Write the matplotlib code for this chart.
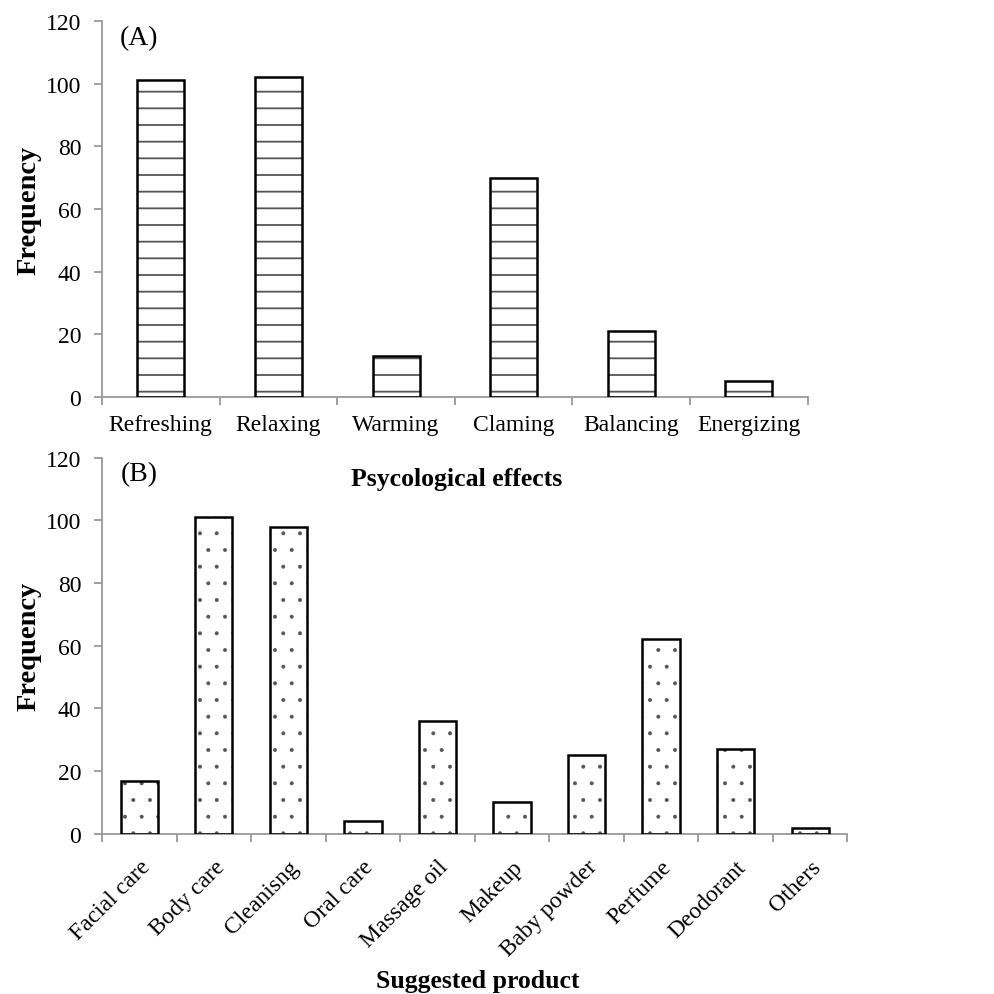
import matplotlib.pyplot as plt
import numpy as np

effects = ['Refreshing', 'Relaxing', 'Warming', 'Claming', 'Balancing', 'Energizing']
effect_freq = [101, 102, 13, 70, 21, 5]

products = ['Facial care', 'Body care', 'Cleanisng', 'Oral care', 'Massage oil',
            'Makeup', 'Baby powder', 'Perfume', 'Deodorant', 'Others']
product_freq = [17, 101, 98, 4, 36, 10, 25, 62, 27, 2]

plt.rcParams['font.family'] = ['Liberation Serif', 'DejaVu Serif']

fig = plt.figure(figsize=(9.94, 9.95), dpi=100)
ax1 = fig.add_axes([0.1026, 0.600, 0.710, 0.378])
ax2 = fig.add_axes([0.1026, 0.161, 0.750, 0.378])
ax2.patch.set_visible(False)


def style(ax, n):
    for s in ['top', 'right']:
        ax.spines[s].set_visible(False)
    for s in ['left', 'bottom']:
        ax.spines[s].set_color('#999999')
        ax.spines[s].set_linewidth(1.3)
    ax.set_xlim(-0.5, n - 0.5)
    ax.set_ylim(0, 120)
    ax.set_yticks(range(0, 121, 20))
    ax.set_xticks(np.arange(n + 1) - 0.5)
    ax.set_xticklabels([])
    ax.tick_params(axis='x', which='major', direction='out', length=6,
                   color='#999999', width=1.3)
    ax.tick_params(axis='x', which='minor', length=0, labelsize=17, pad=12)
    ax.tick_params(axis='y', direction='out', length=6, color='#999999',
                   width=1.3, labelsize=17, pad=9)
    ax.set_ylabel('Frequency', fontsize=20.5, fontweight='bold', labelpad=3)


# (A)
x1 = np.arange(len(effects))
with plt.rc_context({'hatch.linewidth': 1.3}):
    ax1.bar(x1, effect_freq, width=0.4, color='white', edgecolor='#555555',
            hatch='-', linewidth=0, zorder=2)
ax1.bar(x1, effect_freq, width=0.4, fill=False, edgecolor='black',
        linewidth=1.8, zorder=3)
style(ax1, len(effects))
ax1.set_xticks(x1, effects, minor=True)
ax1.set_xlabel('Psycological effects', fontsize=18.5, fontweight='bold')
ax1.xaxis.set_label_coords(0.503, -0.186)
ax1.text(0.025, 0.99, '(A)', transform=ax1.transAxes, fontsize=20,
         va='top', ha='left')

# (B)
x2 = np.arange(len(products))
with plt.rc_context({'hatch.linewidth': 0.4}):
    ax2.bar(x2, product_freq, width=0.5, color='white', edgecolor='#555555',
            hatch='.', linewidth=0, zorder=2)
ax2.bar(x2, product_freq, width=0.5, fill=False, edgecolor='black',
        linewidth=1.8, zorder=3)
style(ax2, len(products))
ax2.set_xticks(x2, products, minor=True)
ax2.tick_params(axis='x', which='minor', pad=16)
for lab in ax2.get_xticklabels(minor=True):
    lab.set_rotation(45)
    lab.set_ha('right')
    lab.set_rotation_mode('anchor')
ax2.set_xlabel('Suggested product', fontsize=18.5, fontweight='bold')
ax2.xaxis.set_label_coords(0.504, -0.359)
ax2.text(0.025, 0.99, '(B)', transform=ax2.transAxes, fontsize=20,
         va='top', ha='left')

fig.savefig('out.png', dpi=100)
